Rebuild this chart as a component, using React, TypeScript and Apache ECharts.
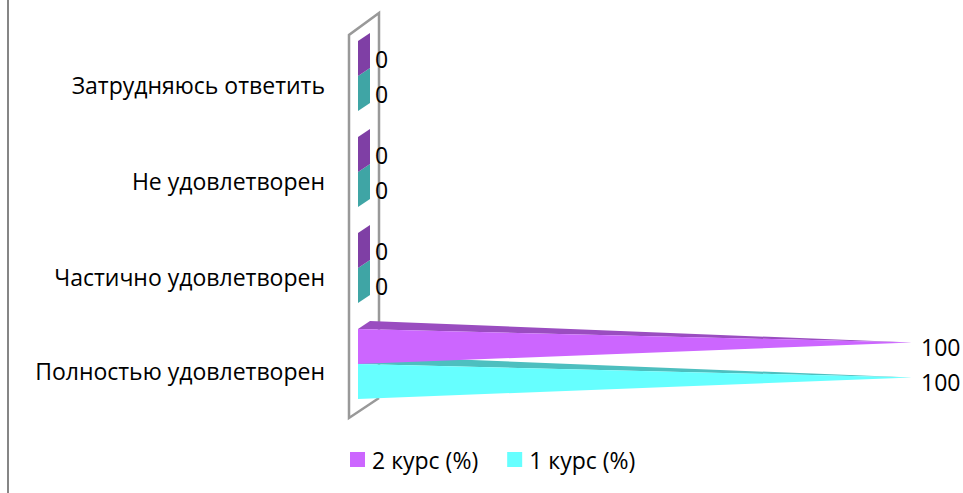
import React, { useEffect, useRef } from "react";
import * as echarts from "echarts";

const categories = ["Полностью удовлетворен", "Частично удовлетворен", "Не удовлетворен", "Затрудняюсь ответить"];
const course2 = [100, 0, 0, 0];
const course1 = [100, 0, 0, 0];
const seriesNames = ["2 курс (%)", "1 курс (%)"];

const FONT = "'Open Sans', sans-serif";
const FS = 23;
const DX = 12;
const DY = 8;
const BAR_RATIO = 35 / 96;

function coneRenderer(side: number, front: string, top: string, flat: string) {
  return (_params: any, api: any) => {
    const value = api.value(0);
    const cat = api.value(1);
    const [x0, yc] = api.coord([0, cat]);
    const [xv] = api.coord([value, cat]);
    const h = api.size([0, 1])[1] * BAR_RATIO;
    const yTop = side < 0 ? yc - h : yc;
    const yBot = yTop + h;
    const yMid = (yTop + yBot) / 2;
    const children: any[] = [];
    if (value === 0) {
      children.push({
        type: "polygon",
        shape: { points: [[x0, yTop], [x0 + DX, yTop - DY], [x0 + DX, yBot - DY], [x0, yBot]] },
        style: { fill: flat },
      });
    } else {
      const tip = [xv, yMid - DY / 2];
      children.push({
        type: "polygon",
        shape: { points: [[x0, yTop], [x0 + DX, yTop - DY], tip] },
        style: { fill: top },
      });
      children.push({
        type: "polygon",
        shape: { points: [[x0, yTop], [x0, yBot], tip] },
        style: { fill: front },
      });
    }
    children.push({
      type: "text",
      z2: 10,
      style: {
        text: String(value),
        x: xv + (value === 0 ? 17 : 9),
        y: yMid,
        align: "left",
        verticalAlign: "middle",
        fontFamily: FONT,
        fontSize: FS,
        fill: "#000",
      },
    });
    return { type: "group", children };
  };
}

export default function App() {
  const ref = useRef<HTMLDivElement>(null);
  useEffect(() => {
    document.body.style.margin = "0";
    const chart = echarts.init(ref.current!, undefined, { renderer: "svg" });
    chart.setOption({
      animation: false,
      backgroundColor: "#fff",
      grid: { left: 358, width: 554, top: 28, height: 384, containLabel: false },
      xAxis: { type: "value", min: 0, max: 100, show: false },
      yAxis: {
        type: "category",
        data: categories,
        axisLine: { show: false },
        axisTick: { show: false },
        axisLabel: {
          margin: 33,
          fontFamily: FONT,
          fontSize: FS,
          color: "#000",
          verticalAlign: "top",
          lineHeight: 18,
          formatter: (v: string, i: number) => (i === 0 ? `{low|${v}}` : v),
          rich: { low: { lineHeight: 13, fontFamily: FONT, fontSize: FS, color: "#000" } },
        },
      },
      legend: {
        left: 350,
        top: 448,
        itemWidth: 15,
        itemHeight: 15,
        itemGap: 29,
        icon: "rect",
        padding: 0,
        data: seriesNames,
        textStyle: { fontFamily: FONT, fontSize: FS, color: "#000", padding: [0, 0, 0, 2] },
      },
      graphic: [
        { type: "line", z: -1, shape: { x1: 8, y1: 0, x2: 8, y2: 493 }, style: { stroke: "#868686", lineWidth: 2 } },
        {
          type: "polyline",
          z: -1,
          shape: { points: [[379, 398], [349, 418], [349, 35], [379, 13], [379, 398]] },
          style: { stroke: "#999999", lineWidth: 2.5, fill: "none" },
        },
      ],
      series: [
        {
          type: "custom",
          name: seriesNames[0],
          z: 3,
          itemStyle: { color: "#CC66FF" },
          renderItem: coneRenderer(-1, "#CC66FF", "#9A4DC0", "#7F3FA5"),
          encode: { x: 0, y: 1 },
          data: course2.map((v, i) => [v, i]),
        },
        {
          type: "custom",
          name: seriesNames[1],
          z: 2,
          itemStyle: { color: "#66FFFF" },
          renderItem: coneRenderer(1, "#66FFFF", "#4DBFBF", "#3FA5A5"),
          encode: { x: 0, y: 1 },
          data: course1.map((v, i) => [v, i]),
        },
      ],
    });
    return () => chart.dispose();
  }, []);
  return <div ref={ref} style={{ position: "absolute", left: 0, top: 0, width: 963, height: 493 }} />;
}
